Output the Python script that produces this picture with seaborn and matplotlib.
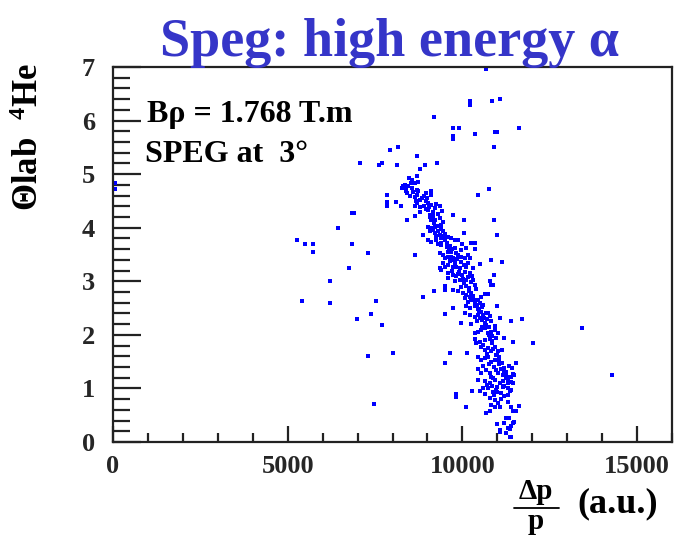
import matplotlib
matplotlib.use("Agg")
import matplotlib.pyplot as plt
from matplotlib.lines import Line2D
from matplotlib.ticker import MultipleLocator
import numpy as np
import pandas as pd
import seaborn as sns

# ---------------- data ----------------
x_sparse = [10680, 10208, 10208, 10834, 11071, 9191, 9732, 9894, 9732, 9732, 10359,
            10920, 10995, 11621, 7929, 8165, 8707, 10909, 10758, 10445, 10900, 10986,
            10806, 11137, 10900, 10778, 10824, 10995, 11063, 11394, 11707, 13427,
            11462, 12012, 11536, 14291, 11442, 11394, 11613, 11470, 11375, 11394,
            11251, 11063]
y_sparse = [6.96, 6.37, 6.30, 6.37, 6.40, 6.06, 5.86, 5.86, 5.71, 5.65, 5.75,
            5.79, 5.79, 5.86, 5.45, 5.51, 5.34, 5.51, 4.72, 4.62, 4.14, 3.87,
            3.39, 3.36, 3.11, 3.01, 2.94, 2.53, 2.32, 2.26, 2.29, 2.12,
            1.87, 1.84, 1.47, 1.25, 1.27, 1.12, 0.68, 0.38, 0.24, 0.10,
            0.44, 0.22]

x_left = [6830, 6900, 6436, 5268, 5507, 5735, 5735, 6827, 7302, 6750, 6209, 5422,
          6209, 7539, 7377, 6989, 7302, 7462, 60, 60, 7073, 7624, 7701, 8137, 7852,
          7852, 7852, 8088, 7701, 8014, 9806, 10108, 9826]
y_left = [4.27, 4.27, 4.00, 3.77, 3.69, 3.69, 3.55, 3.69, 3.52, 3.24, 3.01, 2.63,
          2.60, 2.63, 2.39, 2.29, 1.60, 0.71, 4.83, 4.72, 5.20, 5.17, 5.20, 5.17, 4.62,
          4.48, 4.41, 4.48, 2.18, 1.67, 0.84, 0.65, 0.89]

x_band = [8943, 9268, 8800, 8715, 8479, 8545, 8641, 8735, 8356, 8308, 8260, 8450,
          8688, 8735, 8403, 8498, 8972, 9114, 9114, 8242, 8641, 8659, 8783, 8688,
          8641, 8783, 8906, 8972, 9020, 9114, 9211, 9354, 9020, 9163, 9305,
          9068, 9163, 9114, 9211, 9427, 9732, 8403, 8641, 10046,
          9020, 9114, 9211, 9305, 9399, 9068, 9211, 9305, 9354, 9447,
          8878, 10046, 9020, 9114, 9257, 9305, 9399, 9496, 9590, 9684, 9780, 9875,
          10254, 10350, 10111, 10368, 8641, 9354, 9447, 9496, 9590, 9684, 9732,
          9875, 9969, 10065, 10160, 10208, 10493, 9447, 9496, 9590, 9732, 9826, 9923,
          9354, 9399, 10111, 9590, 9732, 9826, 9875, 9590, 9780, 9923,
          10065, 10208, 10282, 10111, 10254, 10350, 10872, 9496, 9513, 9191,
          9732, 9875, 9969, 10017, 10111, 10208, 10065, 10254, 10350, 10445, 10538,
          10635, 10729, 8878, 9732, 9496, 10111, 10208, 10350, 10445, 10538, 10681,
          10729, 10065, 10208, 10350, 10493, 10587, 10424, 10635, 10824, 10920, 9969,
          10350, 10445, 10538, 10635, 10729, 10824, 10920, 11014, 10350, 10396, 10493,
          10635, 10778, 11205, 10538, 10635, 10729, 10824, 10920, 11014, 11128,
          9655, 10131, 9496, 10445, 10538, 10635, 10729, 10824, 10920,
          10445, 10538, 10681, 10778, 10824, 10966, 11014, 11108, 11205, 11251,
          10445, 10635, 10778, 10920, 11063, 11157, 11299, 11394, 11442, 11394,
          10282, 10493, 10587, 10729, 10872, 10966, 11108, 11205,
          10778, 10920, 11014, 10824, 10920, 11091, 11299, 11394,
          10681, 10778, 11442, 11536, 11347, 11205, 11442, 10995,
          11299, 11394, 11063, 11251, 11375, 11347, 11413, 11490,
          11251, 11318, 11375, 11299, 9399, 9638, 9684, 9826, 9780,
          8400, 8550, 8600, 8850, 8900, 9000, 9050, 9250, 8800, 9350, 9450,
          9150, 9250, 9400, 9500, 9550, 9650, 9700, 9800, 9950, 10000, 9600,
          9650, 9800, 9950, 10050, 10150, 10300, 10000, 10150, 9700, 10050, 10200,
          10400, 10300, 10150, 10300, 10500, 10600, 10450, 10550, 10700, 10800,
          10250, 10550, 10750, 10850, 10950, 10600, 10850, 10700, 10950, 11050,
          10600, 10750, 10900, 11050, 11150, 10850, 11000, 11200, 11300, 10650,
          10900, 11100,
          8520, 8380, 8700, 8950, 9080, 9180, 9380, 9480, 9560, 9620, 9740, 9860,
          9900, 10020, 10100, 10180, 10260, 10330, 10420, 10480, 10560, 10620, 10680,
          10760, 10840, 10880, 10980, 11040, 11120, 11180, 11240, 11320, 10700, 10880,
          11000, 11160]
y_band = [5.17, 5.20, 5.10, 4.97, 4.92, 4.89, 4.84, 4.86, 4.80, 4.77, 4.74, 4.77,
          4.70, 4.69, 4.64, 4.59, 4.65, 4.69, 4.62, 4.41, 4.58, 4.50, 4.52, 4.46,
          4.41, 4.39, 4.41, 4.49, 4.46, 4.42, 4.36, 4.41, 4.33, 4.30, 4.26,
          4.24, 4.21, 4.14, 4.14, 4.31, 4.24, 4.14, 4.21, 4.14,
          4.02, 3.99, 4.01, 4.03, 4.05, 3.93, 3.90, 3.94, 3.86, 3.93,
          3.86, 3.90, 3.77, 3.74, 3.77, 3.70, 3.71, 3.77, 3.82, 3.80, 3.78, 3.77,
          3.72, 3.72, 3.63, 3.60, 3.49, 3.52, 3.49, 3.43, 3.45, 3.46, 3.40,
          3.49, 3.46, 3.43, 3.49, 3.43, 3.32, 3.34, 3.27, 3.30, 3.27, 3.26, 3.24,
          3.24, 3.21, 3.27, 3.15, 3.12, 3.09, 3.14, 3.07, 3.01, 3.02,
          3.18, 3.15, 3.09, 3.02, 2.99, 2.93, 2.93, 2.91, 2.84, 2.81,
          2.84, 2.81, 2.90, 2.78, 2.74, 2.71, 2.68, 2.65, 2.59, 2.65, 2.71,
          2.76, 2.76, 2.70, 2.50, 2.39, 2.53, 2.50, 2.53, 2.48, 2.43, 2.40,
          2.41, 2.41, 2.37, 2.34, 2.31, 2.37, 2.25, 2.23, 2.25, 2.17, 2.22,
          2.03, 2.06, 2.09, 2.12, 2.03, 2.06, 2.09, 2.03, 1.92, 1.84, 1.87,
          1.90, 1.92, 1.95, 1.78, 1.72, 1.75, 1.69, 1.78, 1.70, 1.72,
          1.67, 1.67, 1.47, 1.59, 1.53, 1.56, 1.59, 1.50, 1.53,
          1.36, 1.28, 1.34, 1.28, 1.22, 1.34, 1.28, 1.36, 1.38, 1.31,
          1.16, 1.13, 1.10, 1.16, 1.11, 1.13, 1.21, 1.22, 1.11, 0.98,
          0.96, 0.96, 1.00, 1.00, 0.94, 0.97, 0.91, 0.85,
          0.82, 0.78, 0.72, 0.69, 0.66, 0.66, 0.75, 0.66,
          0.54, 0.58, 0.58, 0.57, 0.44, 0.36, 0.36, 0.33,
          0.26, 0.29, 0.19, 0.16, 0.10, 1.42, 1.39, 1.26,
          1.19, 1.10, 0.96, 0.88, 3.68, 3.65, 3.55, 3.52, 3.29,
          4.72, 4.75, 4.66, 4.55, 4.60, 4.55, 4.38, 4.45, 4.30, 4.18, 4.10,
          3.95, 3.85, 3.80, 3.88, 3.72, 3.66, 3.60, 3.62, 3.58, 3.70, 3.55,
          3.38, 3.35, 3.36, 3.30, 3.35, 3.25, 3.12, 3.08, 3.20, 2.96, 2.88,
          2.85, 3.02, 2.62, 2.72, 2.60, 2.55, 2.38, 2.28, 2.30, 2.35,
          2.20, 2.15, 2.15, 1.98, 1.95, 1.82, 1.85, 1.65, 1.62, 1.58,
          1.42, 1.45, 1.40, 1.45, 1.25, 1.05, 1.02, 1.05, 1.00, 0.90,
          0.88, 0.80,
          4.83, 4.68, 4.62, 4.35, 4.20, 4.08, 3.98, 3.84, 3.64, 3.58, 3.44, 3.42,
          3.18, 3.05, 2.92, 2.82, 2.78, 2.66, 2.56, 2.44, 2.52, 2.32, 2.18,
          2.00, 1.88, 1.74, 1.62, 1.52, 1.48, 1.30, 1.24, 1.16, 1.06, 1.20,
          0.93, 1.02]

x_vals = x_sparse + x_left + x_band
y_vals = y_sparse + y_left + y_band
df = pd.DataFrame({"dp": x_vals, "theta": y_vals})

x_ticks = [0, 5000, 10000, 15000]
y_ticks = [0, 1, 2, 3, 4, 5, 6, 7]

# ---------------- style ----------------
sns.set_theme(style="white")
plt.rcParams["font.family"] = ["Liberation Serif", "DejaVu Serif"]
plt.rcParams["font.weight"] = "bold"
plt.rcParams["mathtext.fontset"] = "custom"
plt.rcParams["mathtext.rm"] = "Liberation Serif:bold"
plt.rcParams["mathtext.it"] = "Liberation Serif:bold"
plt.rcParams["mathtext.bf"] = "Liberation Serif:bold"

W, H = 675, 537
fig = plt.figure(figsize=(W / 100, H / 100), dpi=100)
L, R, T, B = 113, 672, 67, 442
ax = fig.add_axes([L / W, 1 - B / H, (R - L) / W, (B - T) / H])

sns.scatterplot(data=df, x="dp", y="theta", ax=ax, marker="s", s=7,
                color="#0000ff", linewidth=0, legend=False)

ax.set_xlim(0, 16000)
ax.set_ylim(0, 7)
ax.set_xticks(x_ticks)
ax.set_yticks(y_ticks)
ax.xaxis.set_minor_locator(MultipleLocator(1000))
ax.yaxis.set_minor_locator(MultipleLocator(0.2))
ax.set_xlabel("")
ax.set_ylabel("")

for sp in ax.spines.values():
    sp.set_linewidth(1.6)
    sp.set_color("#222222")

ax.tick_params(axis="x", which="major", direction="in", length=11.5, width=1.6,
               color="#222222", labelsize=19, pad=9.5, bottom=True, top=False)
ax.tick_params(axis="x", which="minor", direction="in", length=6.5, width=1.6,
               color="#222222", bottom=True, top=False)
ax.tick_params(axis="y", which="major", direction="in", length=20, width=1.6,
               color="#222222", labelsize=19, pad=13, left=True, right=False)
ax.tick_params(axis="y", which="minor", direction="in", length=12, width=1.6,
               color="#222222", left=True, right=False)
for lab in ax.get_xticklabels() + ax.get_yticklabels():
    lab.set_fontweight("bold")

# ---------------- texts ----------------
fig.text(390 / W, 1 - 56 / H, "Speg: high energy α", ha="center", va="baseline",
         fontsize=39, color="#3535c8", fontweight="bold")
fig.text(147 / W, 1 - 122 / H, "Bρ = 1.768 T.m", ha="left", va="baseline",
         fontsize=23, fontweight="bold", color="black")
fig.text(145 / W, 1 - 162 / H, "SPEG at  3°", ha="left", va="baseline",
         fontsize=23, fontweight="bold", color="black")

fig.text(30 / W, 1 - 137 / H, "Θlab  $^{4}$He", rotation=90, ha="center",
         va="center", fontsize=25, fontweight="bold", color="black")

fig.text(536 / W, 1 - 499 / H, "Δp", ha="center", va="baseline", fontsize=21,
         fontweight="bold", color="black")
fig.add_artist(Line2D([514 / W, 559 / W], [1 - 508 / H, 1 - 508 / H],
                      transform=fig.transFigure, color="black", lw=1.3))
fig.text(536 / W, 1 - 529 / H, "p", ha="center", va="baseline", fontsize=21,
         fontweight="bold", color="black")
fig.text(577 / W, 1 - 504 / H, "(a.u.)", ha="left", va="center", fontsize=26,
         fontweight="bold", color="black")

fig.savefig("out.png", dpi=100)
